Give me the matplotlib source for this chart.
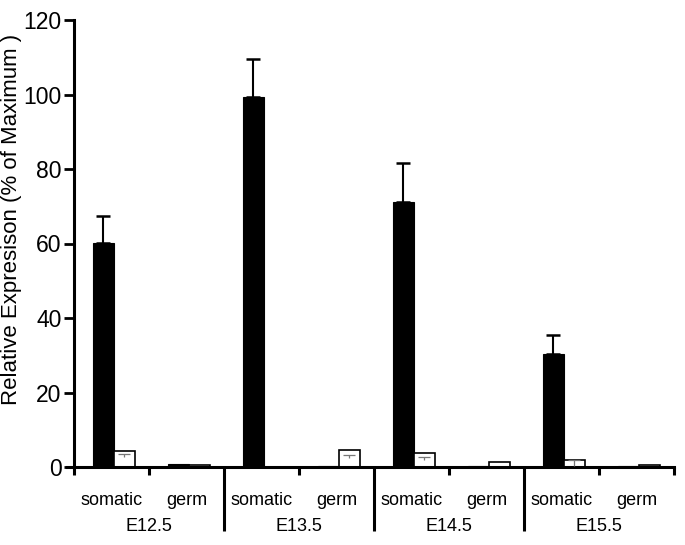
import matplotlib
matplotlib.use("Agg")
import matplotlib.pyplot as plt
from matplotlib.transforms import blended_transform_factory
import numpy as np

plt.rcParams['font.family'] = ['Liberation Sans', 'DejaVu Sans']

stages = ["E12.5", "E13.5", "E14.5", "E15.5"]
cell_types = ["somatic", "germ"]
# order: E12.5 somatic, E12.5 germ, E13.5 somatic, E13.5 germ, ...
black_vals = [60.2, 0.8, 99.4, 0.4, 71.1, 0.15, 30.4, 0.15]
black_err = [7.3, 0.0, 10.0, 0.0, 10.6, 0.0, 5.1, 0.0]
white_vals = [4.4, 0.5, 0.0, 4.6, 3.7, 1.3, 1.9, 0.6]
white_err_base = [2.7, 0.0, 0.0, 2.3, 1.9, 0.0, 0.2, 0.0]
white_err_top = [3.5, 0.0, 0.0, 3.2, 2.6, 0.0, 1.9, 0.0]
y_ticks = [0, 20, 40, 60, 80, 100, 120]
y_label = "Relative Expresison (% of Maximum )"

fig = plt.figure(figsize=(6.85, 5.45), dpi=100)
ax = fig.add_axes([66.5 / 685, 1 - 467 / 545, (674 - 66.5) / 685, 447 / 545])

n = len(black_vals)
x = np.arange(n)
bw = 0.28
off_b = 0.253
off_w = off_b + bw

ax.bar(x + off_b, black_vals, width=bw, align='edge', color='black',
       edgecolor='black', linewidth=0.8, zorder=2)
ax.bar(x + off_w, white_vals, width=bw, align='edge', facecolor='white',
       edgecolor='black', linewidth=1.2, zorder=2)

berr = np.array(black_err)
m = berr > 0
ax.errorbar((x + off_b + bw / 2)[m], np.array(black_vals)[m],
            yerr=[np.zeros(m.sum()), berr[m]], fmt='none', ecolor='black',
            elinewidth=1.5, capsize=4.8, capthick=1.8, zorder=3)

wb = np.array(white_err_base)
wt = np.array(white_err_top)
mw = wt > wb
ax.vlines((x + off_w + bw / 2)[mw], wb[mw], wt[mw], color='#777777',
          linewidth=0.9, zorder=3)
ax.plot((x + off_w + bw / 2)[mw], wt[mw], linestyle='none', marker='_',
        markersize=8, markeredgewidth=0.9, color='#777777', zorder=3)

ax.set_xlim(-0.1, 8.0)
ax.set_ylim(0, 120)

for s in ['top', 'right']:
    ax.spines[s].set_visible(False)
ax.spines['left'].set_position(('data', 0))
ax.spines['left'].set_linewidth(2.2)
ax.spines['bottom'].set_linewidth(2.2)

ax.set_yticks(y_ticks)
ax.set_yticklabels([str(v) for v in y_ticks])
ax.tick_params(axis='y', direction='out', length=7, width=2.0,
               labelsize=16.5, pad=2)

ax.set_xticks([0, 1, 3, 5, 7, 8])
ax.set_xticks([2, 4, 6], minor=True)
ax.tick_params(axis='x', which='major', direction='out', length=6,
               width=2.2, labelbottom=False)
ax.tick_params(axis='x', which='minor', direction='out', length=46,
               width=2.2, labelbottom=False)

trans = blended_transform_factory(ax.transData, ax.transAxes)
for gi, st in enumerate(stages):
    for ci, ct in enumerate(cell_types):
        ax.text(gi * 2 + ci + 0.5, -0.076, ct, transform=trans,
                ha='center', va='center', fontsize=13)
    ax.text(gi * 2 + 1.0, -0.133, st, transform=trans,
            ha='center', va='center', fontsize=13)

ax.set_ylabel(y_label, fontsize=16)
ax.yaxis.set_label_coords(-0.074, 0.553)

fig.savefig("out.png", dpi=100)
